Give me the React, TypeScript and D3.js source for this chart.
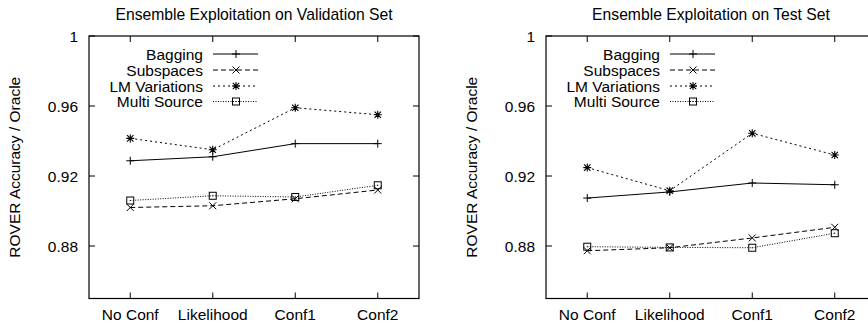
import React from "react";
import * as d3 from "d3";

const categories = ["No Conf", "Likelihood", "Conf1", "Conf2"];
const seriesNames = ["Bagging", "Subspaces", "LM Variations", "Multi Source"];
const yTicks = [0.88, 0.92, 0.96, 1];

const valBagging = [0.9287, 0.931, 0.9385, 0.9385];
const valSubspaces = [0.902, 0.903, 0.907, 0.912];
const valLM = [0.9415, 0.935, 0.959, 0.955];
const valMulti = [0.906, 0.9087, 0.908, 0.9147];

const testBagging = [0.9074, 0.9109, 0.916, 0.915];
const testSubspaces = [0.8773, 0.879, 0.8846, 0.8907];
const testLM = [0.9248, 0.9116, 0.9444, 0.932];
const testMulti = [0.8796, 0.8792, 0.879, 0.8873];

const dashes = [null, "5,3", "2,3", "1,1.5"];
const FONT = "'Liberation Sans', Arial, Helvetica, sans-serif";
const FS = 15.5;

function Marker({ type, x, y }: { type: number; x: number; y: number }) {
  const s = 4;
  if (type === 0)
    return <path d={`M${x - s},${y}H${x + s}M${x},${y - s}V${y + s}`} stroke="#000" strokeWidth={1} />;
  if (type === 1)
    return <path d={`M${x - 3.5},${y - 3.5}L${x + 3.5},${y + 3.5}M${x - 3.5},${y + 3.5}L${x + 3.5},${y - 3.5}`} stroke="#000" strokeWidth={1} />;
  if (type === 2)
    return (
      <path
        d={`M${x - s},${y}H${x + s}M${x},${y - s}V${y + s}M${x - 3.2},${y - 3.2}L${x + 3.2},${y + 3.2}M${x - 3.2},${y + 3.2}L${x + 3.2},${y - 3.2}`}
        stroke="#000"
        strokeWidth={1.1}
      />
    );
  return (
    <g>
      <rect x={x - 3.5} y={y - 3.5} width={7} height={7} fill="none" stroke="#000" strokeWidth={1} />
      <rect x={x - 0.5} y={y - 0.5} width={1} height={1} fill="#000" />
    </g>
  );
}

function Panel({
  left,
  title,
  series,
}: {
  left: number;
  title: string;
  series: number[][];
}) {
  const top = 36;
  const bottom = 298.5;
  const width = 330;
  const x = d3.scaleLinear().domain([-0.5, 3.5]).range([left, left + width]);
  const y = d3.scaleLinear().domain([0.85, 1]).range([bottom, top]);
  const line = d3
    .line<number>()
    .x((_, i) => x(i))
    .y((d) => y(d));
  const tl = 6;
  const legX = left + 114;
  const legRows = [54, 70, 86, 101.5];
  return (
    <g fontFamily={FONT} fontSize={FS} fill="#000">
      <text x={left + width / 2} y={19.5} textAnchor="middle" fontSize={15.7}>
        {title}
      </text>
      <text
        transform={`translate(${left - 75},${(top + bottom) / 2}) rotate(-90)`}
        textAnchor="middle"
        dominantBaseline="central"
      >
        ROVER Accuracy / Oracle
      </text>
      <rect x={left} y={top} width={width} height={bottom - top} fill="none" stroke="#000" strokeWidth={1.2} />
      {yTicks.map((t) => (
        <g key={t}>
          <path d={`M${left},${y(t)}h${tl}M${left + width},${y(t)}h${-tl}`} stroke="#000" />
          <text x={left - 11} y={y(t)} textAnchor="end" dominantBaseline="central">
            {t === 1 ? "1" : String(t)}
          </text>
        </g>
      ))}
      {categories.map((c, i) => (
        <g key={c}>
          <path d={`M${x(i)},${bottom}v${-tl}M${x(i)},${top}v${tl}`} stroke="#000" />
          <text x={x(i)} y={314} textAnchor="middle" dominantBaseline="central">
            {c}
          </text>
        </g>
      ))}
      {series.map((vals, si) => (
        <g key={si}>
          <path
            d={line(vals) || ""}
            fill="none"
            stroke="#000"
            strokeWidth={1}
            strokeDasharray={dashes[si] || undefined}
          />
          {vals.map((v, i) => (
            <Marker key={i} type={si} x={x(i)} y={y(v)} />
          ))}
        </g>
      ))}
      {seriesNames.map((n, si) => (
        <g key={n}>
          <text x={legX} y={legRows[si]} textAnchor="end" dominantBaseline="central">
            {n}
          </text>
          <path
            d={`M${legX + 10},${legRows[si]}H${legX + 55}`}
            stroke="#000"
            strokeWidth={1}
            strokeDasharray={dashes[si] || undefined}
          />
          <Marker type={si} x={legX + 33} y={legRows[si]} />
        </g>
      ))}
    </g>
  );
}

export default function App() {
  return (
    <svg
      width={868}
      height={327}
      style={{ position: "absolute", left: 0, top: 0, background: "#fff" }}
    >
      <rect width={868} height={327} fill="#fff" />
      <Panel left={89} title="Ensemble Exploitation on Validation Set" series={[valBagging, valSubspaces, valLM, valMulti]} />
      <Panel left={546} title="Ensemble Exploitation on Test Set" series={[testBagging, testSubspaces, testLM, testMulti]} />
    </svg>
  );
}
